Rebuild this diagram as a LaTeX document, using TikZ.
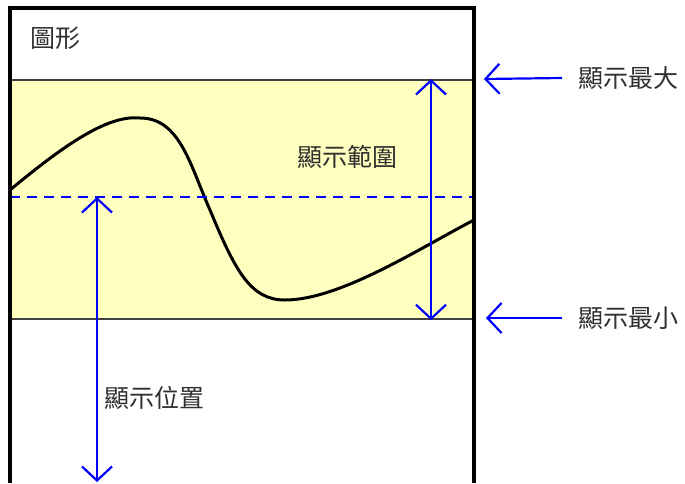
\documentclass[tikz,border=0pt]{standalone}
\usepackage{fontspec}
\newfontfamily\cjk{Noto Sans CJK TC}
\usetikzlibrary{arrows.meta, positioning}
\definecolor{clrBand}{HTML}{FFFFBF}
\definecolor{clrBlue}{HTML}{0000FF}
\definecolor{clrText}{HTML}{303030}
\tikzset{
  frame/.style = {line width=4pt, black},
  band/.style  = {rectangle, draw=black!75, line width=2.2pt, fill=clrBand,
                  inner sep=0pt, anchor=north west},
  curve/.style = {line width=3pt, black},
  level/.style = {dash pattern=on 10pt off 7pt, line width=2.6pt, clrBlue},
  arr/.style   = {-{Straight Barb[length=14pt, width=30pt, line width=2.2pt]},
                  line width=2.2pt, clrBlue},
  darr/.style  = {{Straight Barb[length=14pt, width=30pt, line width=2.2pt]}-{Straight Barb[length=14pt, width=30pt, line width=2.2pt]},
                  line width=2.2pt, clrBlue},
  label/.style = {font=\cjk\fontsize{25}{30}\selectfont, text=clrText, inner sep=0pt},
}
\begin{document}
\begin{tikzpicture}[x=1pt, y=-1pt]
\useasboundingbox (0,0) rectangle (685,483);

% display band
\node[band, minimum width=464pt, minimum height=239pt] (range) at (10,79) {};

% curve
\draw[curve] (10,190) .. controls (70,140) and (110,115) .. (140,118)
  .. controls (180,118) and (190,165) .. (210,210)
  .. controls (235,270) and (250,300) .. (285,300)
  .. controls (340,300) and (420,248) .. (474,220);

% position line
\coordinate (lvlL) at (10,197);
\coordinate (lvlR) at (474,197);
\draw[level] (lvlL) -- (lvlR);

% frame, open at the bottom
\draw[frame] (10,483) -- (10,8) -- (474,8) -- (474,483);

% labels
\node[label] (graph) at (55,38) {圖形};
\node[label] (rangelbl) at (347,157) {顯示範圍};
\node[label, anchor=west] (maxlbl) at (578,78) {顯示最大};
\node[label, anchor=west] (minlbl) at (578,318) {顯示最小};
\node[label, anchor=west] (poslbl) at (104,398) {顯示位置};

% arrows
\coordinate (maxtip) at (484,79);
\coordinate (mintip) at (486,318);
\coordinate (posup) at (97,197);
\coordinate (posdn) at (97,482);
\draw[arr] ([xshift=-16pt]maxlbl.west) -- (maxtip);
\draw[arr] ([xshift=-16pt]minlbl.west) -- (mintip);
\draw[darr] (range.north -| 431,0) -- (range.south -| 431,0);
\draw[darr] (posup) -- (posdn);
\end{tikzpicture}
\end{document}
